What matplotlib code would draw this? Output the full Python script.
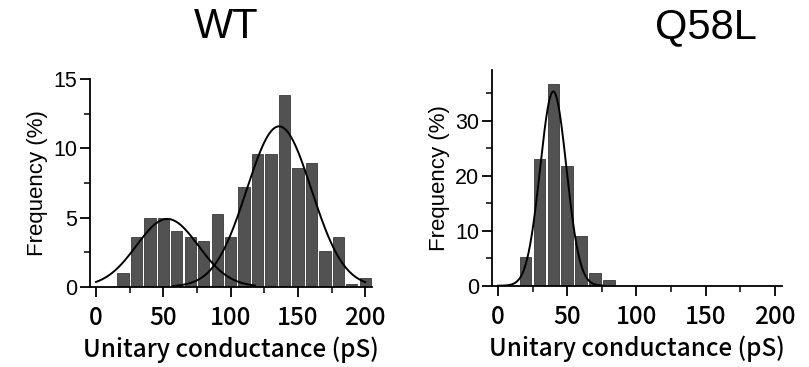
import numpy as np
import matplotlib.pyplot as plt

# histogram bins (pS) and frequencies (%)
wt_bins = [20, 30, 40, 50, 60, 70, 80, 90, 100, 110, 120, 130, 140, 150, 160, 170, 180, 190, 200]
wt_freq = [1.0, 3.6, 5.0, 5.0, 4.0, 3.6, 3.3, 5.25, 3.6, 7.2, 9.6, 9.6, 13.9, 8.6, 8.95, 2.6, 3.6, 0.2, 0.6]

q58l_bins = [20, 30, 40, 50, 60, 70, 80]
q58l_freq = [5.3, 23.1, 36.6, 21.8, 9.0, 2.3, 1.0]

# gaussian fit components: (mean, sd, peak height, x start, x end)
wt_fits = [(53, 23, 4.9, 0, 118), (136, 24, 11.6, 57, 200)]
q58l_fits = [(40, 9.5, 35.3, 0, 76)]

titles = ['WT', 'Q58L']
xlabel = 'Unitary conductance (pS)'
ylabel = 'Frequency (%)'

bar_color = '#525252'
x_font = ['Noto Sans CJK JP', 'DejaVu Sans']
y_font = 'Liberation Sans'

fig = plt.figure(figsize=(8.09, 3.67), dpi=100)
ax1 = fig.add_axes([0.1112, 0.2188, 0.3486, 0.565])
ax2 = fig.add_axes([0.6078, 0.2215, 0.3585, 0.5877])


def draw(ax, bins, freq, fits, ylim, yticks, yminor):
    ax.bar(bins, freq, width=8.4, color=bar_color, edgecolor='#3a3a3a', linewidth=0.6)
    for mu, sd, amp, x0, x1 in fits:
        xs = np.linspace(x0, x1, 200)
        ax.plot(xs, amp * np.exp(-(xs - mu) ** 2 / (2 * sd ** 2)), color='black', lw=1.4)
    ax.set_xlim(-4.5, 205)
    ax.set_ylim(*ylim)
    ax.set_xticks([0, 50, 100, 150, 200])
    ax.set_xticks([25, 75, 125, 175], minor=True)
    ax.set_yticks(yticks)
    ax.set_yticks(yminor, minor=True)
    for s in ['top', 'right']:
        ax.spines[s].set_visible(False)
    for s in ['left', 'bottom']:
        ax.spines[s].set_linewidth(1.3)
    ax.tick_params(which='major', direction='out', length=7, width=1.3)
    ax.tick_params(which='minor', direction='out', length=4, width=1.1)
    ax.tick_params(axis='x', which='major', pad=6)
    ax.tick_params(axis='y', which='major', pad=2)
    for lab in ax.get_xticklabels():
        lab.set_family(x_font)
        lab.set_fontsize(17.5)
        lab.set_weight('medium')
    for lab in ax.get_yticklabels():
        lab.set_family(y_font)
        lab.set_fontsize(15.5)
    ax.set_xlabel(xlabel, fontsize=17.5, family=x_font, weight='medium', labelpad=4)
    ax.set_ylabel(ylabel, fontsize=16, family=y_font, labelpad=4)


draw(ax1, wt_bins, wt_freq, wt_fits, (0, 15), [0, 5, 10, 15], [2.5, 7.5, 12.5])
draw(ax2, q58l_bins, q58l_freq, q58l_fits, (0, 39.2), [0, 10, 20, 30], [5, 15, 25, 35])

fig.text(0.279, 0.927, titles[0], ha='center', va='center', fontsize=30, family='Liberation Sans')
fig.text(0.873, 0.927, titles[1], ha='center', va='center', fontsize=30, family='Liberation Sans')

fig.savefig('out.png', dpi=100)
